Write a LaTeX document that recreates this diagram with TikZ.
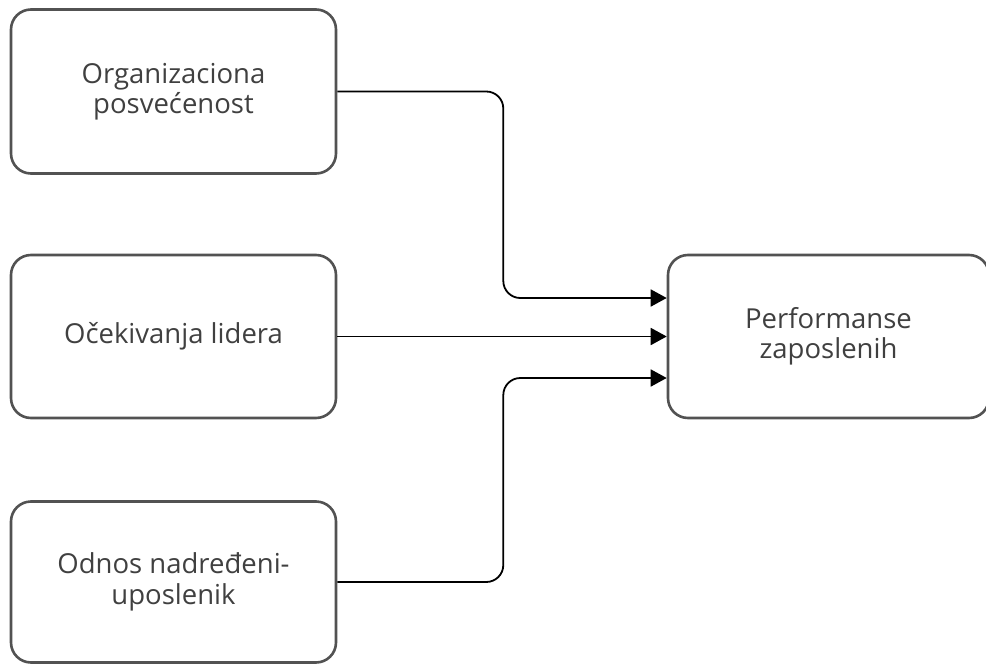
\documentclass[tikz,border=0pt]{standalone}
\usepackage{fontspec}
\setmainfont{Open Sans}
\usetikzlibrary{arrows.meta}
\begin{document}
\begin{tikzpicture}[x=1pt,y=-1pt,
  box/.style={draw=black!68, line width=2.6pt, rounded corners=20pt, fill=white,
    align=center, text=black!75, font=\fontsize{27.5}{30.5}\selectfont, inner sep=0pt},
  conn/.style={draw=black, line width=1.8pt, rounded corners=17pt,
    -{Triangle[length=16pt,width=17pt]}}]
\useasboundingbox (0,0) rectangle (986,664);
\node[box, minimum width=325pt, minimum height=164pt] (a) at (173.5,91.5) {Organizaciona\\posvećenost};
\node[box, minimum width=325pt, minimum height=163pt] (b) at (173.5,336.5) {Očekivanja lidera};
\node[box, minimum width=325pt, minimum height=161pt] (c) at (173.5,582) {Odnos nadređeni-\\uposlenik};
\node[box, minimum width=321pt, minimum height=163pt] (d) at (828.5,336.5) {Performanse\\zaposlenih};
\draw[conn] (a.east) -- ++(166,0) |- ([yshift=38.5pt]d.west);
\draw[conn] (b.east) -- (d.west);
\draw[conn] (c.east) -- ++(166,0) |- ([yshift=-41.5pt]d.west);
\end{tikzpicture}
\end{document}
